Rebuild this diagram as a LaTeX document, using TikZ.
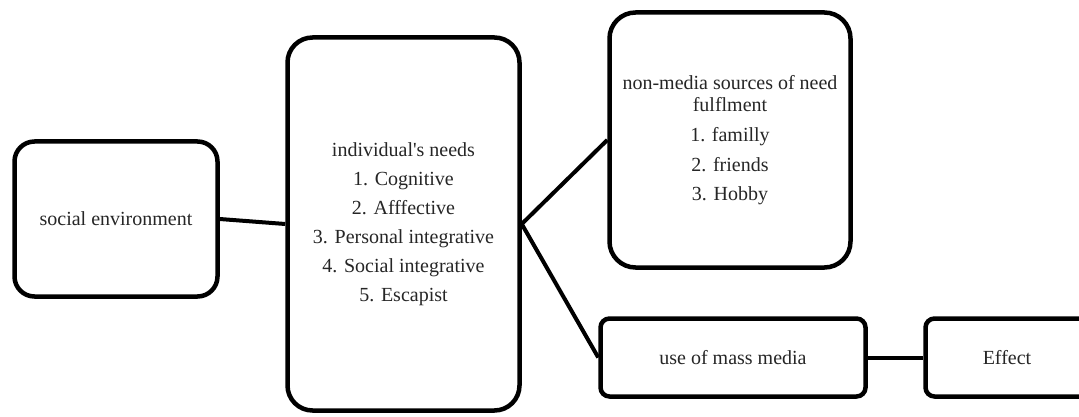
\documentclass[tikz,border=0pt]{standalone}
\usepackage{fontspec}
\setmainfont{Liberation Serif}
\newfontfamily\straightfont{Liberation Serif}[Ligatures=TeXOff]
\newcommand{\sq}{{\straightfont\symbol{39}}}
\definecolor{txt}{HTML}{262626}
\begin{document}
\begin{tikzpicture}[x=1pt,y=-1pt,
  box/.style={draw=black, line width=4.5pt, fill=white, inner sep=0pt, align=center,
    text=txt, font=\fontsize{20}{29}\selectfont},
  conn/.style={line width=4pt, black}]
\useasboundingbox (0,0) rectangle (1079,417);
\clip (0,0) rectangle (1079,417);
\node[box, rounded corners=20pt, minimum width=203pt, minimum height=155pt] (soc) at (116,219) {social environment};
\node[box, rounded corners=25pt, minimum width=232pt, minimum height=373pt] (ind) at (403.5,224)
  {individual\sq s needs\\1. Cognitive\\2. Afffective\\3. Personal integrative\\4. Social integrative\\5. Escapist};
\node[box, rounded corners=26pt, minimum width=241pt, minimum height=255pt, font=\fontsize{20}{22}\selectfont] (nm) at (730,140)
  {non-media sources of need\\fulflment\\[8pt]1. familly\\[8pt]2. friends\\[7pt]3. Hobby};
\node[box, rounded corners=9pt, minimum width=265pt, minimum height=78pt] (use) at (733,357.5) {use of mass media};
\node[box, rounded corners=9pt, minimum width=163pt, minimum height=78pt] (eff) at (1007,357.5) {Effect};
\draw[conn] (soc.east) -- (ind.west);
\draw[conn] (ind.east) -- (nm.west);
\draw[conn] (ind.east) -- (use.west);
\draw[conn] (use.east) -- (eff.west);
\end{tikzpicture}
\end{document}
